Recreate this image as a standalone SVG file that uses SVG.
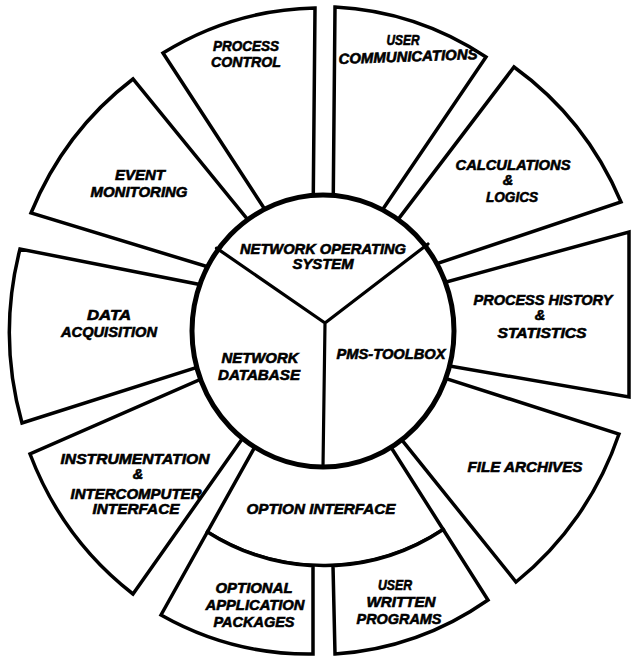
<svg xmlns="http://www.w3.org/2000/svg" width="632" height="657" viewBox="0 0 632 657">
<style>
.box{fill:#fff;stroke:#000;stroke-width:3.5;stroke-linejoin:miter}
.hub{fill:#fff;stroke:#000;stroke-width:5}
.div{fill:none;stroke:#000;stroke-width:3.2;stroke-linecap:round;stroke-linejoin:round}
.t{font-family:"Liberation Sans",Arial,sans-serif;font-weight:bold;font-style:italic;font-size:14.5px;text-anchor:middle;fill:#000;stroke:#000;stroke-width:0.6}
</style>
<rect width="632" height="657" fill="#fff"/>
<g id="process-control">
<path class="box" d="M277.6 228.9 L163 53 A310 323 0 0 1 315 8 L313 225 Z"/>
<text class="t" x="246" y="50.7" textLength="66" lengthAdjust="spacingAndGlyphs">PROCESS</text>
<text class="t" x="246" y="67" textLength="70" lengthAdjust="spacingAndGlyphs">CONTROL</text>
</g>
<g id="user-communications">
<path class="box" d="M333 225 L335 7 A310 323 0 0 1 486 57 L373 223.7 Z"/>
<text class="t" x="403" y="44.5" textLength="33" lengthAdjust="spacingAndGlyphs">USER</text>
<text class="t" x="408" y="61.5" textLength="139" lengthAdjust="spacingAndGlyphs" transform="rotate(-2 408 57)">COMMUNICATIONS</text>
</g>
<g id="calculations-logics">
<path class="box" d="M387.9 232.9 L514 67 A310 323 0 0 1 621 202 L414.4 271.1 Z"/>
<text class="t" x="513" y="170" textLength="115" lengthAdjust="spacingAndGlyphs">CALCULATIONS</text>
<text class="t" x="508" y="185">&amp;</text>
<text class="t" x="512" y="201.7" textLength="52" lengthAdjust="spacingAndGlyphs">LOGICS</text>
</g>
<g id="process-history">
<path class="box" d="M419.9 289.2 L629 232 L629 397 L420.9 361 Z"/>
<text class="t" x="543" y="305" textLength="139" lengthAdjust="spacingAndGlyphs">PROCESS HISTORY</text>
<text class="t" x="540" y="320">&amp;</text>
<text class="t" x="542" y="338" textLength="89" lengthAdjust="spacingAndGlyphs">STATISTICS</text>
</g>
<g id="file-archives">
<path class="box" d="M418.1 369.6 L619 434 A310 323 0 0 1 516 582 L384.5 418.3 Z"/>
<text class="t" x="525" y="472" textLength="115" lengthAdjust="spacingAndGlyphs">FILE ARCHIVES</text>
</g>
<g id="option-interface">
<path class="box" d="M378.3 427.2 L443.2 529.5 A225 235 0 0 1 207.4 531.9 L264.2 430.2 Z"/>
<text class="t" x="321" y="513.5" textLength="149" lengthAdjust="spacingAndGlyphs">OPTION INTERFACE</text>
</g>
<g id="user-written-programs">
<path class="box" d="M443.2 529.5 L488 600 A310 323 0 0 1 335 654 L333 565.8 A225 235 0 0 0 443.2 529.5 Z"/>
<text class="t" x="395" y="590" textLength="34" lengthAdjust="spacingAndGlyphs">USER</text>
<text class="t" x="401" y="607" textLength="69" lengthAdjust="spacingAndGlyphs">WRITTEN</text>
<text class="t" x="399" y="624" textLength="85" lengthAdjust="spacingAndGlyphs">PROGRAMS</text>
</g>
<g id="optional-application-packages">
<path class="box" d="M313 565.8 L313 654 A310 323 0 0 1 161 615 L207.4 531.9 A225 235 0 0 0 313 565.8 Z"/>
<text class="t" x="254" y="593" textLength="77" lengthAdjust="spacingAndGlyphs">OPTIONAL</text>
<text class="t" x="255" y="610" textLength="99" lengthAdjust="spacingAndGlyphs">APPLICATION</text>
<text class="t" x="254" y="627" textLength="81" lengthAdjust="spacingAndGlyphs">PACKAGES</text>
</g>
<g id="instrumentation-interface">
<path class="box" d="M254.4 421.6 L133 594 A310 323 0 0 1 30 454 L222 370 Z"/>
<text class="t" x="135" y="464" textLength="149" lengthAdjust="spacingAndGlyphs">INSTRUMENTATION</text>
<text class="t" x="138" y="479">&amp;</text>
<text class="t" x="136" y="499" textLength="131" lengthAdjust="spacingAndGlyphs">INTERCOMPUTER</text>
<text class="t" x="136" y="514" textLength="87" lengthAdjust="spacingAndGlyphs">INTERFACE</text>
</g>
<g id="data-acquisition">
<path class="box" d="M218.9 360.4 L22 423 A310 323 0 0 1 20 249 L226.2 289.7 Z"/>
<text class="t" x="109" y="320" textLength="44" lengthAdjust="spacingAndGlyphs">DATA</text>
<text class="t" x="109" y="337" textLength="96" lengthAdjust="spacingAndGlyphs">ACQUISITION</text>
</g>
<g id="event-monitoring">
<path class="box" d="M231.5 274 L31 213 A310 323 0 0 1 133 79 L263.8 239.4 Z"/>
<text class="t" x="140" y="180" textLength="50" lengthAdjust="spacingAndGlyphs">EVENT</text>
<text class="t" x="139" y="196.7" textLength="97" lengthAdjust="spacingAndGlyphs">MONITORING</text>
</g>
<g id="hub">
<ellipse class="hub" cx="323" cy="331" rx="131" ry="136"/>
<path class="div" d="M216.5 248.1 L325 323 L428 244 M325 323 L323 467"/>
<g id="network-operating-system">
<text class="t" x="323" y="254" textLength="166" lengthAdjust="spacingAndGlyphs">NETWORK OPERATING</text>
<text class="t" x="323" y="269" textLength="61" lengthAdjust="spacingAndGlyphs">SYSTEM</text>
</g>
<g id="network-database">
<text class="t" x="260" y="362.5" textLength="77" lengthAdjust="spacingAndGlyphs">NETWORK</text>
<text class="t" x="259" y="379.5" textLength="82" lengthAdjust="spacingAndGlyphs">DATABASE</text>
</g>
<g id="pms-toolbox">
<text class="t" x="391" y="359" textLength="109" lengthAdjust="spacingAndGlyphs">PMS-TOOLBOX</text>
</g>
</g>
</svg>
